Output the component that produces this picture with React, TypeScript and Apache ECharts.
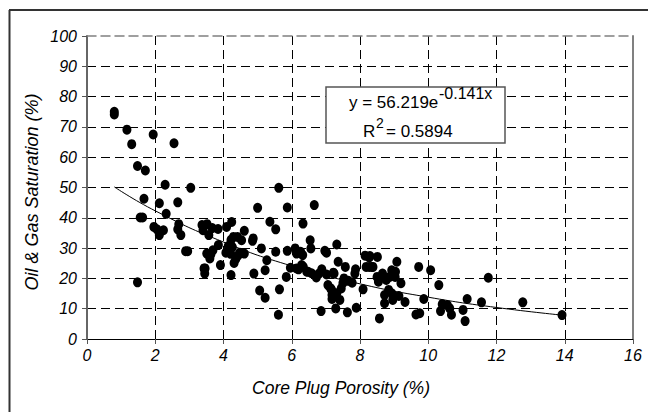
import React, { useEffect, useRef } from "react";
import * as echarts from "echarts";

const porosity = [
  0.8, 0.8, 1.17, 1.31, 1.48, 1.71, 1.94, 2.55, 2.29, 3.04, 1.67, 2.12, 2.66, 1.56, 1.63, 2.32, 2.69, 1.96, 2.05, 2.24,
  2.12, 2.66, 2.75, 2.89, 2.95, 1.48, 3.37, 3.52, 3.4, 3.57, 3.67, 3.84, 3.85, 3.69, 3.51, 3.6, 3.63, 3.43, 3.45, 3.91,
  4.09, 4.24, 4.14, 4.07, 4.21, 4.22, 4.41, 4.26, 4.31, 4.36, 4.22, 4.48, 4.53, 4.61, 4.61, 4.43, 4.85, 4.89, 5.0, 5.11,
  5.06, 5.22, 5.22, 5.27, 5.36, 5.53, 5.53, 5.62, 5.64, 5.61, 5.84, 5.87, 5.87, 5.96, 6.1, 6.14, 6.2, 6.26, 6.32, 6.33,
  6.34, 6.48, 6.54, 6.56, 6.66, 6.72, 6.8, 6.88, 6.97, 7.02, 6.86, 7.02, 7.06, 7.14, 7.18, 7.18, 7.24, 7.32, 7.29, 7.32,
  7.36, 7.41, 7.45, 7.57, 7.53, 7.5, 7.63, 7.77, 7.85, 7.87, 7.89, 8.09, 8.15, 8.27, 8.27, 8.38, 8.51, 8.5, 8.54, 8.57,
  8.66, 8.72, 8.72, 8.77, 8.84, 8.87, 8.93, 8.96, 9.04, 9.08, 9.14, 9.2, 9.32, 9.64, 9.75, 9.72, 9.87, 10.07, 10.31, 10.36,
  10.41, 10.56, 10.63, 10.68, 11.02, 11.08, 11.14, 11.56, 11.76, 12.77, 13.92,
  6.29, 6.58, 7.22, 7.17, 7.66, 8.18, 8.35, 8.29, 6.44, 6.14, 9.03, 8.93, 4.87, 4.29, 3.46,
];
const saturation = [
  75.0, 74.1, 69.1, 64.3, 57.1, 55.6, 67.5, 64.6, 50.9, 49.9, 46.3, 44.8, 45.1, 40.1, 40.1, 41.3, 37.9, 37.0, 36.2, 35.9,
  34.3, 36.2, 34.3, 29.0, 29.0, 18.7, 37.6, 37.9, 35.9, 34.3, 36.6, 36.3, 31.0, 29.3, 28.2, 26.6, 28.0, 23.3, 21.6, 24.4,
  37.0, 38.6, 30.7, 28.5, 28.1, 32.7, 33.7, 30.3, 25.1, 26.4, 21.1, 28.5, 32.6, 35.7, 28.2, 27.6, 32.4, 21.6, 43.3, 29.9,
  16.0, 13.6, 22.7, 26.0, 38.7, 36.2, 28.8, 49.9, 16.4, 8.0, 20.5, 43.4, 29.1, 23.5, 29.9, 28.2, 23.0, 28.8, 27.7, 38.1,
  23.8, 22.2, 32.6, 29.9, 44.2, 20.3, 21.6, 23.0, 29.1, 28.5, 9.2, 21.3, 17.8, 16.7, 14.5, 13.2, 21.6, 31.2, 10.1, 15.1,
  25.5, 12.9, 16.7, 23.8, 20.0, 18.5, 8.8, 18.6, 21.6, 23.0, 10.3, 16.4, 27.5, 23.8, 26.9, 23.8, 27.1, 20.5, 18.9, 6.8,
  21.6, 14.5, 11.8, 19.5, 16.2, 20.5, 22.7, 12.9, 22.2, 25.5, 14.2, 18.4, 12.2, 8.1, 8.5, 23.8, 13.2, 22.7, 17.8, 9.2,
  11.5, 11.2, 10.1, 8.0, 9.6, 5.9, 13.2, 12.1, 20.2, 12.1, 7.9,
  24.4, 21.7, 21.9, 16.2, 19.2, 23.8, 23.8, 27.4, 22.2, 23.3, 20.5, 15.1, 33.2, 33.7, 23.3,
];

// trend line
const trendX = [0.8, 2, 4, 6, 8, 10, 12, 13.9];
const trendY = [50.2, 42.3, 32.0, 24.1, 18.2, 13.8, 10.4, 7.9];

const xTitle = "Core Plug Porosity (%)";
const yTitle = "Oil & Gas Saturation (%)";
const eqMain = "y = 56.219e";
const eqExp = "-0.141x";
const r2Main = "R";
const r2Sup = "2";
const r2Value = "= 0.5894";

const FONT = "'Liberation Sans', Arial, sans-serif";

export default function App() {
  const ref = useRef<HTMLDivElement>(null);
  useEffect(() => {
    if (!ref.current) return;
    const chart = echarts.init(ref.current, null, { renderer: "svg" });
    const points = porosity.map((x, i) => [x, saturation[i]]);
    const trend = trendX.map((x, i) => [x, trendY[i]]);
    const dash = [9, 5];
    const ySplitColors = ["#000", "#000", "#000", "#000", "#000", "#000", "#000", "#000", "#000", "#000", "transparent"];
    const xSplitColors = ["#000", "#000", "#000", "#000", "#000", "#000", "#000", "#000", "transparent"];
    chart.setOption({
      animation: false,
      backgroundColor: "#fff",
      grid: { left: 87, right: 15, top: 36, bottom: 73, containLabel: false },
      xAxis: [
        {
          type: "value",
          min: 0,
          max: 16,
          interval: 2,
          axisLine: { show: true, onZero: false, lineStyle: { color: "#000", width: 1 } },
          axisTick: { show: true, length: 5, lineStyle: { color: "#555" } },
          axisLabel: { color: "#000", fontSize: 16, fontStyle: "italic", fontFamily: FONT, margin: 8 },
          splitLine: { show: true, lineStyle: { color: xSplitColors, type: dash, width: 1 } },
        },
        {
          type: "value",
          position: "top",
          min: 0,
          max: 16,
          interval: 2,
          axisLine: { show: true, onZero: false, lineStyle: { color: "#808080", width: 1.5, type: dash } },
          axisTick: { show: false },
          axisLabel: { show: false },
          splitLine: { show: false },
        },
      ],
      yAxis: [
        {
          type: "value",
          min: 0,
          max: 100,
          interval: 10,
          axisLine: { show: true, onZero: false, lineStyle: { color: "#666", width: 2 } },
          axisTick: { show: true, length: 5, lineStyle: { color: "#555" } },
          axisLabel: { color: "#000", fontSize: 16, fontStyle: "italic", fontFamily: FONT, margin: 10 },
          splitLine: { show: true, lineStyle: { color: ySplitColors, type: dash, width: 1 } },
        },
        {
          type: "value",
          position: "right",
          min: 0,
          max: 100,
          interval: 10,
          axisLine: { show: true, onZero: false, lineStyle: { color: "#808080", width: 2 } },
          axisTick: { show: false },
          axisLabel: { show: false },
          splitLine: { show: false },
        },
      ],
      series: [
        {
          type: "scatter",
          data: points,
          symbol: "circle",
          symbolSize: [9, 10],
          itemStyle: { color: "#000", opacity: 1 },
          z: 3,
        },
        {
          type: "line",
          data: trend,
          smooth: true,
          showSymbol: false,
          symbol: "none",
          lineStyle: { color: "#000", width: 1 },
          z: 4,
        },
      ],
      graphic: [
        { type: "line", shape: { x1: 9, y1: 10, x2: 648, y2: 10 }, style: { stroke: "#333", lineWidth: 2 }, z: 10 },
        { type: "line", shape: { x1: 9.5, y1: 10, x2: 9.5, y2: 412 }, style: { stroke: "#333", lineWidth: 2 }, z: 10 },
        {
          type: "text",
          x: 32,
          y: 192,
          rotation: Math.PI / 2,
          style: { text: yTitle, font: `italic 18px ${FONT}`, fill: "#000", textAlign: "center", textVerticalAlign: "middle" },
        },
        {
          type: "text",
          x: 341,
          y: 388,
          style: { text: xTitle, font: `italic 17.5px ${FONT}`, fill: "#000", textAlign: "center", textVerticalAlign: "middle" },
        },
        {
          type: "rect",
          shape: { x: 326, y: 87, width: 179, height: 56 },
          style: { fill: "#fff", stroke: "#555", lineWidth: 1.5 },
          z: 20,
        },
        {
          type: "text",
          x: 349,
          y: 102,
          style: { text: eqMain, font: `17px ${FONT}`, fill: "#000", textAlign: "left", textVerticalAlign: "middle" },
          z: 21,
        },
        {
          type: "text",
          x: 439,
          y: 93,
          style: { text: eqExp, font: `16px ${FONT}`, fill: "#000", textAlign: "left", textVerticalAlign: "middle" },
          z: 22,
        },
        {
          type: "text",
          x: 363,
          y: 131,
          style: { text: r2Main, font: `17px ${FONT}`, fill: "#000", textAlign: "left", textVerticalAlign: "middle" },
          z: 21,
        },
        {
          type: "text",
          x: 376,
          y: 123,
          style: { text: r2Sup, font: `14px ${FONT}`, fill: "#000", textAlign: "left", textVerticalAlign: "middle" },
          z: 22,
        },
        {
          type: "text",
          x: 386,
          y: 131,
          style: { text: r2Value, font: `17px ${FONT}`, fill: "#000", textAlign: "left", textVerticalAlign: "middle" },
          z: 21,
        },
      ],
    });
    return () => chart.dispose();
  }, []);
  return <div ref={ref} style={{ width: 648, height: 412, position: "absolute", left: 0, top: 0 }} />;
}
